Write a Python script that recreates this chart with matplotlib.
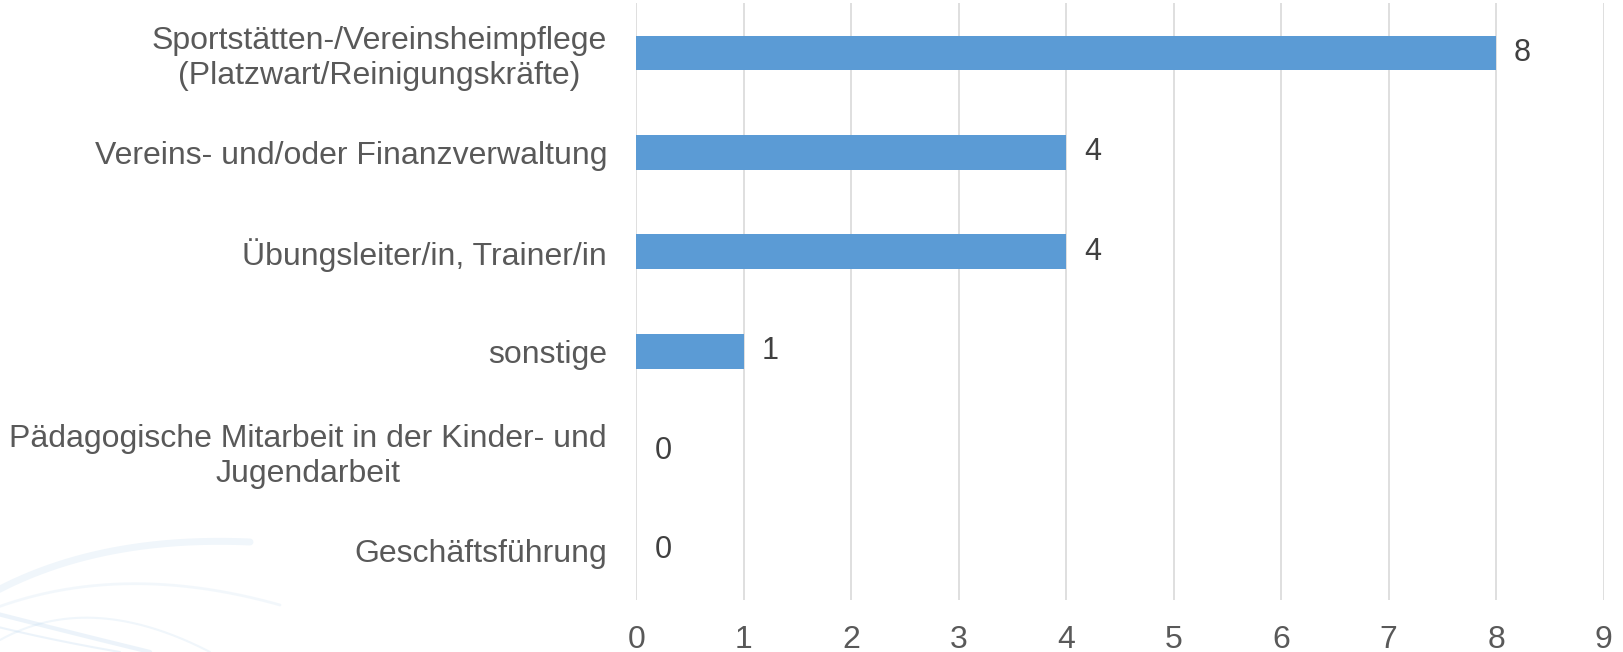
import numpy as np
import matplotlib.pyplot as plt
from matplotlib import font_manager

# data (top to bottom)
categories = [
    "Sportstätten-/Vereinsheimpflege\n(Platzwart/Reinigungskräfte)",
    "Vereins- und/oder Finanzverwaltung",
    "Übungsleiter/in, Trainer/in",
    "sonstige",
    "Pädagogische Mitarbeit in der Kinder- und\nJugendarbeit",
    "Geschäftsführung",
]
values = [8, 4, 4, 1, 0, 0]
x_ticks = list(range(0, 10))

plt.rcParams['font.family'] = ['Liberation Sans', 'DejaVu Sans']
names = {f.name for f in font_manager.fontManager.ttflist}
narrow = 'Liberation Sans Narrow' if 'Liberation Sans Narrow' in names else 'Liberation Sans'

fig = plt.figure(figsize=(16.23, 6.52), dpi=100)

# faint decorative swirl in the lower left corner
bg = fig.add_axes([0, 0, 1, 1], zorder=0)
bg.set_xlim(0, 1623)
bg.set_ylim(652, 0)
bg.axis('off')
t = np.linspace(0, 1, 200)
for (x0, y0, x1, y1, cx, cy, lw, a) in [
    (-20, 600, 250, 542, 90, 535, 5, 0.22),
    (-10, 610, 280, 605, 120, 560, 2, 0.18),
    (0, 640, 210, 652, 90, 590, 1.5, 0.22),
    (-10, 612, 150, 652, 60, 630, 3, 0.28),
    (-10, 625, 120, 652, 50, 640, 1.5, 0.28),
]:
    xs = (1 - t) ** 2 * x0 + 2 * (1 - t) * t * cx + t ** 2 * x1
    ys = (1 - t) ** 2 * y0 + 2 * (1 - t) * t * cy + t ** 2 * y1
    bg.plot(xs, ys, color='#BBD7EE', lw=lw, alpha=a, solid_capstyle='round')

ax = fig.add_axes([0.392, 0.08, 0.596, 0.915], zorder=1)
ax.patch.set_alpha(0)
y = np.arange(len(categories))
ax.barh(y, values, height=0.35, color='#5B9BD5', zorder=3)
ax.set_ylim(len(categories) - 0.5, -0.5)
ax.set_xlim(0, 9)
ax.set_xticks(x_ticks)
ax.set_yticks(y)
ax.set_yticklabels(categories, fontsize=23, color='#595959', multialignment='center')
ax.set_xticklabels([str(v) for v in x_ticks], fontsize=23, family=narrow)
ax.tick_params(axis='x', colors='#595959', length=0, pad=18)
ax.tick_params(axis='y', length=0, pad=21)
ax.grid(axis='x', color='#D9D9D9', lw=1.2, zorder=0)
for s in ax.spines.values():
    s.set_visible(False)

for yi, v in zip(y, values):
    ax.annotate(str(v), (v, yi), xytext=(13, 0), textcoords='offset points',
                va='center', ha='left', fontsize=22, color='#404040')

fig.savefig('out.png', dpi=100)
